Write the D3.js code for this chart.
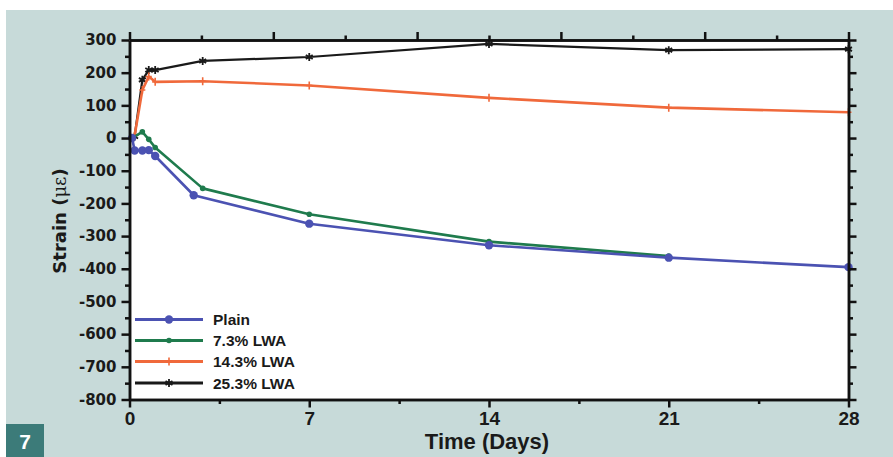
<!DOCTYPE html>
<html>
<head>
<meta charset="utf-8">
<script src="https://cdn.jsdelivr.net/npm/d3@7"></script>
<style>
  html, body { margin: 0; padding: 0; background: #ffffff; }
  svg { display: block; }
</style>
</head>
<body>
<svg id="chart" width="893" height="457"></svg>
<script>
// Strain development over 28 days for plain and lightweight-aggregate mixes
const plainDays   = [0.1, 0.2, 0.5, 0.75, 1.0, 2.5, 7, 14, 21, 28];
const plainStrain = [0, -38, -38, -37, -55, -175, -262, -328, -366, -395];

const lwa73Days   = [0.1, 0.5, 0.75, 1.0, 2.85, 7, 14, 21];
const lwa73Strain = [0, 19, -4, -29, -154, -233, -317, -361];

const lwa143Days   = [0.2, 0.5, 0.75, 1.0, 2.85, 7, 14, 21, 28];
const lwa143Strain = [8, 147, 188, 172, 174, 161, 123, 93, 79];

const lwa253Days   = [0.2, 0.5, 0.75, 1.0, 2.85, 7, 14, 21, 28];
const lwa253Strain = [5, 178, 208, 208, 236, 248, 288, 269, 272];

const seriesNames = ["Plain", "7.3% LWA", "14.3% LWA", "25.3% LWA"];

const xTicks = [0, 7, 14, 21, 28];
const xMinorTicks = [3.5, 10.5, 17.5, 24.5];
const topTicks = [0, 5.6, 11.2, 16.8, 22.4, 28];
const topMinorTicks = [2.8, 8.4, 14, 19.6, 25.2];
const yTicks = d3.range(-800, 301, 100);
const yMinorTicks = d3.range(-750, 300, 100);

const xLabel = "Time (Days)";
const figureNumber = "7";

const svg = d3.select("#chart");

const x = d3.scaleLinear().domain([0, 28]).range([129.5, 848.5]);
const y = d3.scaleLinear().domain([-800, 300]).range([399.5, 40]);

// page background and figure tag
svg.append("rect").attr("x", 6).attr("y", 10).attr("width", 887).attr("height", 447)
  .attr("fill", "#c7dad9");
svg.append("rect").attr("x", 6).attr("y", 424).attr("width", 38).attr("height", 33)
  .attr("fill", "#3c7b79");
svg.append("text").attr("x", 25).attr("y", 449).attr("text-anchor", "middle")
  .attr("font-family", "Liberation Sans, Arial, sans-serif").attr("font-weight", "bold")
  .attr("font-size", 21).attr("fill", "#ffffff").text(figureNumber);

// plot area
svg.append("rect").attr("x", x(0)).attr("y", y(300))
  .attr("width", x(28) - x(0)).attr("height", y(-800) - y(300))
  .attr("fill", "#ffffff");

const series = [
  { name: seriesNames[0], days: plainDays,  vals: plainStrain,  color: "#4b52b2", width: 2.6, marker: "circle" },
  { name: seriesNames[1], days: lwa73Days,  vals: lwa73Strain,  color: "#1f7b4d", width: 2.6, marker: "dot" },
  { name: seriesNames[2], days: lwa143Days, vals: lwa143Strain, color: "#f0693b", width: 2.6, marker: "plus" },
  { name: seriesNames[3], days: lwa253Days, vals: lwa253Strain, color: "#1a1a1a", width: 2.2, marker: "star" }
];

const line = d3.line().x(d => x(d[0])).y(d => y(d[1]));

function drawMarker(g, kind, cx, cy, color) {
  if (kind === "circle") {
    g.append("circle").attr("cx", cx).attr("cy", cy).attr("r", 4.2).attr("fill", color);
  } else if (kind === "dot") {
    g.append("circle").attr("cx", cx).attr("cy", cy).attr("r", 2.8).attr("fill", color);
  } else if (kind === "plus") {
    g.append("path").attr("d", `M${cx},${cy - 4}V${cy + 4}M${cx - 3},${cy}H${cx + 3}`)
      .attr("stroke", color).attr("stroke-width", 1.6).attr("fill", "none");
  } else if (kind === "star") {
    const r = 4;
    let d = "";
    for (let k = 0; k < 3; k++) {
      const a = Math.PI / 2 + k * Math.PI / 3;
      d += `M${cx - r * Math.cos(a)},${cy - r * Math.sin(a)}L${cx + r * Math.cos(a)},${cy + r * Math.sin(a)}`;
    }
    g.append("path").attr("d", d).attr("stroke", color).attr("stroke-width", 1.8).attr("fill", "none");
  }
}

// series lines (drawn back to front so Plain sits on top)
const plotG = svg.append("g");
series.slice().reverse().forEach(s => {
  const pts = s.days.map((d, i) => [d, s.vals[i]]);
  plotG.append("path").datum(pts).attr("d", line)
    .attr("fill", "none").attr("stroke", s.color).attr("stroke-width", s.width)
    .attr("stroke-linejoin", "round");
  pts.forEach(p => drawMarker(plotG, s.marker, x(p[0]), y(p[1]), s.color));
});

// axes
function styleAxis(g, fontFamily, fontSize) {
  g.select(".domain").attr("stroke", "#111").attr("stroke-width", 2.5);
  g.selectAll(".tick line").attr("stroke", "#111").attr("stroke-width", 2.5);
  g.selectAll(".tick text").attr("fill", "#1a1a1a")
    .attr("font-family", fontFamily).attr("font-weight", "bold").attr("font-size", fontSize);
}

const tickFontY = "DejaVu Sans, sans-serif";
const tickFontX = "Liberation Sans, Arial, sans-serif";
const plainNum = d => String(d);

// left
const gL = svg.append("g").attr("transform", `translate(${x(0)},0)`)
  .call(d3.axisLeft(y).tickValues(yTicks).tickSize(8).tickSizeOuter(0).tickPadding(5).tickFormat(plainNum));
styleAxis(gL, tickFontY, 15);
const gLm = svg.append("g").attr("transform", `translate(${x(0)},0)`)
  .call(d3.axisLeft(y).tickValues(yMinorTicks).tickSize(4.5).tickSizeOuter(0).tickFormat(""));
styleAxis(gLm, tickFontY, 15);

// right
const gR = svg.append("g").attr("transform", `translate(${x(28)},0)`)
  .call(d3.axisRight(y).tickValues(yTicks).tickSize(8).tickSizeOuter(0).tickFormat(""));
styleAxis(gR, tickFontY, 15);
const gRm = svg.append("g").attr("transform", `translate(${x(28)},0)`)
  .call(d3.axisRight(y).tickValues(yMinorTicks).tickSize(4.5).tickSizeOuter(0).tickFormat(""));
styleAxis(gRm, tickFontY, 15);

// bottom
const gB = svg.append("g").attr("transform", `translate(0,${y(-800)})`)
  .call(d3.axisBottom(x).tickValues(xTicks).tickSize(8).tickSizeOuter(0).tickPadding(4).tickFormat(plainNum));
styleAxis(gB, tickFontX, 19);
const gBm = svg.append("g").attr("transform", `translate(0,${y(-800)})`)
  .call(d3.axisBottom(x).tickValues(xMinorTicks).tickSize(4.5).tickSizeOuter(0).tickFormat(""));
styleAxis(gBm, tickFontX, 19);

// top
const gT = svg.append("g").attr("transform", `translate(0,${y(300)})`)
  .call(d3.axisTop(x).tickValues(topTicks).tickSize(8).tickSizeOuter(0).tickFormat(""));
styleAxis(gT, tickFontX, 19);
const gTm = svg.append("g").attr("transform", `translate(0,${y(300)})`)
  .call(d3.axisTop(x).tickValues(topMinorTicks).tickSize(4.5).tickSizeOuter(0).tickFormat(""));
styleAxis(gTm, tickFontX, 19);

// axis titles
svg.append("text").attr("x", 487).attr("y", 449).attr("text-anchor", "middle")
  .attr("font-family", tickFontX).attr("font-weight", "bold").attr("font-size", 22)
  .attr("fill", "#1a1a1a").text(xLabel);

const yTitle = svg.append("text").attr("transform", "translate(66,221) rotate(-90)")
  .attr("text-anchor", "middle").attr("font-family", tickFontY)
  .attr("font-weight", "bold").attr("font-size", 18).attr("fill", "#1a1a1a");
yTitle.append("tspan").text("Strain (");
yTitle.append("tspan").attr("font-weight", "normal").attr("font-family", "DejaVu Serif, serif").text("με");
yTitle.append("tspan").text(")");

// legend
const legend = svg.append("g");
const legendRows = [319.5, 340.5, 361.5, 383];
series.forEach((s, i) => {
  const ly = legendRows[i];
  legend.append("line").attr("x1", 135).attr("x2", 203).attr("y1", ly).attr("y2", ly)
    .attr("stroke", s.color).attr("stroke-width", 3);
  drawMarker(legend, s.marker, 169, ly, s.color);
  legend.append("text").attr("x", 213).attr("y", ly + 5.5)
    .attr("font-family", tickFontX).attr("font-weight", "bold").attr("font-size", 15.5)
    .attr("fill", "#1a1a1a").text(s.name);
});
</script>
</body>
</html>
